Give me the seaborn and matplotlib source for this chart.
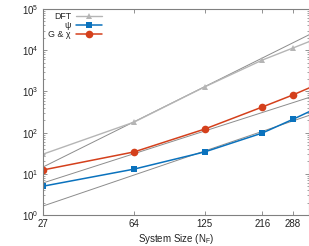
import matplotlib
matplotlib.use("Agg")
import matplotlib.pyplot as plt
import matplotlib.ticker as mticker
import seaborn as sns

# System sizes (343 lies just past the right edge, so only the line shows)
sizes = [27, 64, 125, 216, 288, 343]
tick_sizes = [27, 64, 125, 216, 288]

# Timings
dft = [30, 180, 1290, 5800, 11300, 17000]
psi = [5.0, 13, 34, 98, 210, 340]
g_chi = [12.4, 34, 122, 420, 820, 1280]

# Thin scaling guide lines (endpoints)
ref_x = [27, 340]
ref_n3 = [14.6, 24600]
ref_g = [6.0, 730]
ref_psi = [1.65, 268]

sns.set_style("ticks")
plt.rcParams['font.family'] = ['Liberation Sans', 'DejaVu Sans']
plt.rcParams['mathtext.fontset'] = 'custom'
plt.rcParams['mathtext.rm'] = 'Liberation Sans'
plt.rcParams['mathtext.it'] = 'Liberation Sans:italic'

fig = plt.figure(figsize=(3.09, 2.46), dpi=100)
ax = fig.add_axes([0.139, 0.126, 0.861, 0.837])

for r in [ref_n3, ref_g, ref_psi]:
    sns.lineplot(x=ref_x, y=r, ax=ax, color='#8c8c8c', linewidth=0.7, legend=False)

shown = list(range(len(tick_sizes)))
sns.lineplot(x=sizes, y=dft, ax=ax, color='#b5b5b5', linewidth=1.0, markevery=shown,
             marker='^', markersize=4.5, markeredgewidth=0, label='DFT')
sns.lineplot(x=sizes, y=psi, ax=ax, color='#0a72bd', linewidth=1.1, markevery=shown,
             marker='s', markersize=5, markeredgewidth=0, label='ψ')
sns.lineplot(x=sizes, y=g_chi, ax=ax, color='#d4401c', linewidth=1.1, markevery=shown,
             marker='o', markersize=5.5, markeredgewidth=0, label='G & χ')

ax.set_xscale('log')
ax.set_yscale('log')
ax.set_xlim(27, 336)
ax.set_ylim(1, 1e5)
ax.set_xticks(tick_sizes)
ax.xaxis.set_major_formatter(mticker.FixedFormatter([str(s) for s in tick_sizes]))
ax.xaxis.set_minor_locator(mticker.NullLocator())
ax.yaxis.set_major_locator(mticker.LogLocator(base=10, numticks=10))
ax.yaxis.set_minor_locator(mticker.LogLocator(base=10, subs=range(2, 10), numticks=10))

ax.tick_params(which='both', direction='in', top=True, right=True, colors='#808080',
               labelcolor='#222222', labelsize=7, pad=3)
ax.tick_params(which='major', length=3, width=0.6)
ax.tick_params(which='minor', length=1.5, width=0.5)
for s in ax.spines.values():
    s.set_color('#808080')
    s.set_linewidth(0.8)

ax.set_xlabel('System Size (N$_\\mathrm{F}$)', fontsize=7, color='#222222', labelpad=2)
ax.set_ylabel('')

ax.legend(loc='upper left', bbox_to_anchor=(0.014, 0.995), frameon=False, markerfirst=False,
          fontsize=6.4, handlelength=2.9, handletextpad=0.6, labelspacing=0.0,
          borderaxespad=0.1, borderpad=0.1)

fig.savefig('out.png', dpi=100)
